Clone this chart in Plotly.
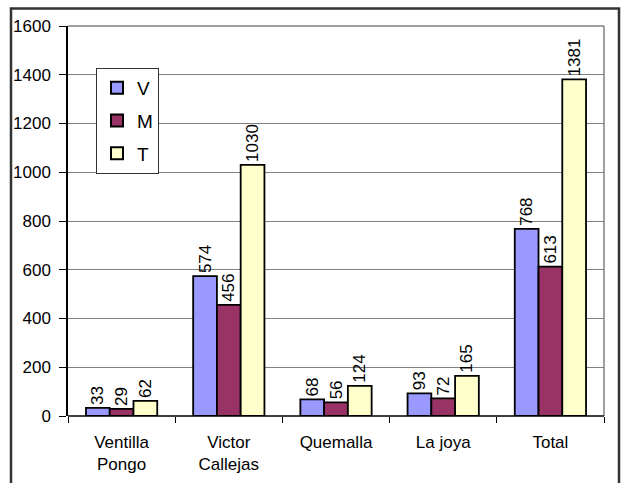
import plotly.graph_objects as go

categories = ["Ventilla<br>Pongo", "Victor<br>Callejas", "Quemalla", "La joya", "Total"]
V = [33, 574, 68, 93, 768]
M = [29, 456, 56, 72, 613]
T = [62, 1030, 124, 165, 1381]
series = [("V", V, "#9999FF"), ("M", M, "#993366"), ("T", T, "#FFFFCC")]
y_ticks = [0, 200, 400, 600, 800, 1000, 1200, 1400, 1600]

FONT = "Liberation Sans, Arial, sans-serif"

fig = go.Figure()
for name, vals, color in series:
    fig.add_trace(go.Bar(
        name=name, x=categories, y=vals, legendgroup=name,
        marker=dict(color=color, line=dict(color="black", width=1.8)),
        text=[str(v) for v in vals], textposition="outside", textangle=-90,
        constraintext="none",
        textfont=dict(family=FONT, size=17, color="black"),
        cliponaxis=False,
    ))

W, H = 624, 483
L, R, Tm, B = 68, 20, 26, 67
pw, ph = W - L - R, H - Tm - B

def px(x):
    return (x - L) / pw

def py(y):
    return (H - B - y) / ph

fig.update_layout(
    width=W, height=H,
    margin=dict(l=L, r=R, t=Tm, b=B, pad=0, autoexpand=False),
    paper_bgcolor="white", plot_bgcolor="white",
    barmode="group", bargap=0.335, bargroupgap=0,
    font=dict(family=FONT, color="black"),
    showlegend=True,
    legend=dict(
        x=px(96), y=py(68), xanchor="left", yanchor="top",
        bgcolor="white", bordercolor="#333333", borderwidth=1,
        font=dict(family=FONT, size=19), itemsizing="constant",
        tracegroupgap=5, itemwidth=30,
    ),
    xaxis=dict(
        showline=False, tickson="boundaries", ticks="outside", ticklen=6,
        tickcolor="black", tickfont=dict(size=17), showgrid=False,
        ticklabelstandoff=14, automargin=False,
    ),
    yaxis=dict(
        range=[0, 1600], tickvals=y_ticks, ticks="outside", ticklen=7,
        tickcolor="black", showline=True, linecolor="black", linewidth=1.5,
        showgrid=True, gridcolor="#808080", gridwidth=1.2, zeroline=False,
        tickfont=dict(size=17), ticklabelstandoff=5, automargin=False,
    ),
    shapes=[
        dict(type="line", xref="paper", yref="paper", x0=0, x1=1, y0=1, y1=1,
             line=dict(color="#808080", width=1.5)),
        dict(type="line", xref="paper", yref="paper", x0=1, x1=1, y0=0, y1=1,
             line=dict(color="#808080", width=1.5)),
        dict(type="line", xref="paper", yref="paper", x0=0, x1=1, y0=0, y1=0,
             line=dict(color="black", width=1.5)),
        dict(type="rect", xref="paper", yref="paper", x0=px(11), x1=px(619),
             y0=py(8.5), y1=py(490), line=dict(color="#333333", width=2.5)),
    ],
)

fig.write_html("out.html", config={"displayModeBar": False},
               post_script="document.body.style.margin='0';")
